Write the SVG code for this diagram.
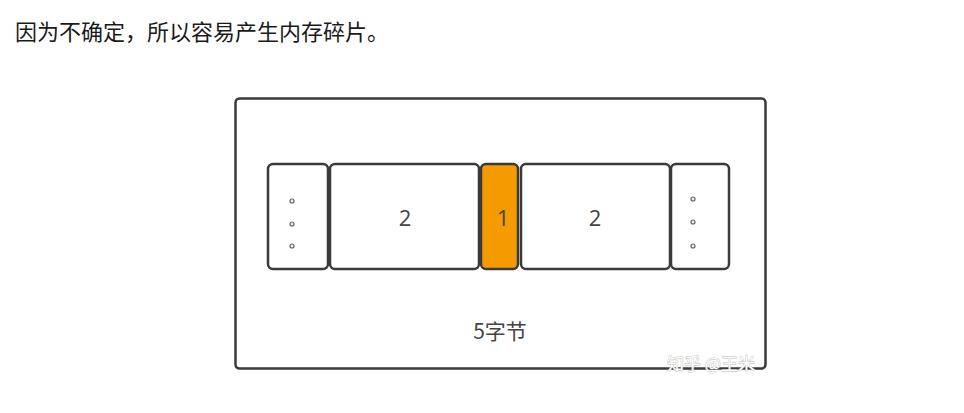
<svg xmlns="http://www.w3.org/2000/svg" width="964" height="413" viewBox="0 0 964 413">
<style>
.cell{fill:#fff;stroke:#3a3a3a;stroke-width:2.5}
.hl{fill:#f59b00;stroke:#3a3a3a;stroke-width:2.5}
.lbl{font-family:"Open Sans","Noto Sans","Noto Sans CJK SC",sans-serif;font-size:22px;fill:#444;text-anchor:middle}
.dot{fill:#eee;stroke:#666;stroke-width:1.2}
.cap{font-family:"Noto Sans CJK SC","Microsoft YaHei",sans-serif;font-size:22px;fill:#1a1a1a}
.wm{font-family:"Noto Sans CJK SC",sans-serif;font-size:17px;fill:#fff;stroke:#bbb;stroke-width:0.8;paint-order:stroke}
</style>
<rect width="964" height="413" fill="#fff"/>
<text class="cap" x="15" y="40">因为不确定，所以容易产生内存碎片。</text>
<g id="frame"><rect x="235.5" y="98.5" width="530" height="270" rx="4" fill="#fff" stroke="#3a3a3a" stroke-width="2.5"/></g>
<g id="cell-dots-left">
<rect class="cell" x="268" y="164" width="60" height="105" rx="5"/>
<circle class="dot" cx="292" cy="201" r="2"/><circle class="dot" cx="292" cy="224" r="2"/><circle class="dot" cx="292" cy="246" r="2"/>
</g>
<g id="cell-2a"><rect class="cell" x="330" y="164" width="149" height="105" rx="5"/><text class="lbl" x="405" y="226">2</text></g>
<g id="cell-1"><rect class="hl" x="481" y="164" width="37" height="105" rx="5"/><text class="lbl" x="503" y="226">1</text></g>
<g id="cell-2b"><rect class="cell" x="521" y="164" width="149" height="105" rx="5"/><text class="lbl" x="595" y="226">2</text></g>
<g id="cell-dots-right">
<rect class="cell" x="671" y="164" width="58" height="105" rx="5"/>
<circle class="dot" cx="693" cy="199" r="2"/><circle class="dot" cx="693" cy="222" r="2"/><circle class="dot" cx="693" cy="246" r="2"/>
</g>
<g id="connectors"></g>
<text class="lbl" x="500" y="339" style="font-family:'Noto Sans CJK SC',sans-serif;font-size:21px">5字节</text>
<text class="wm" x="667" y="370">知乎 @王米</text>
</svg>
